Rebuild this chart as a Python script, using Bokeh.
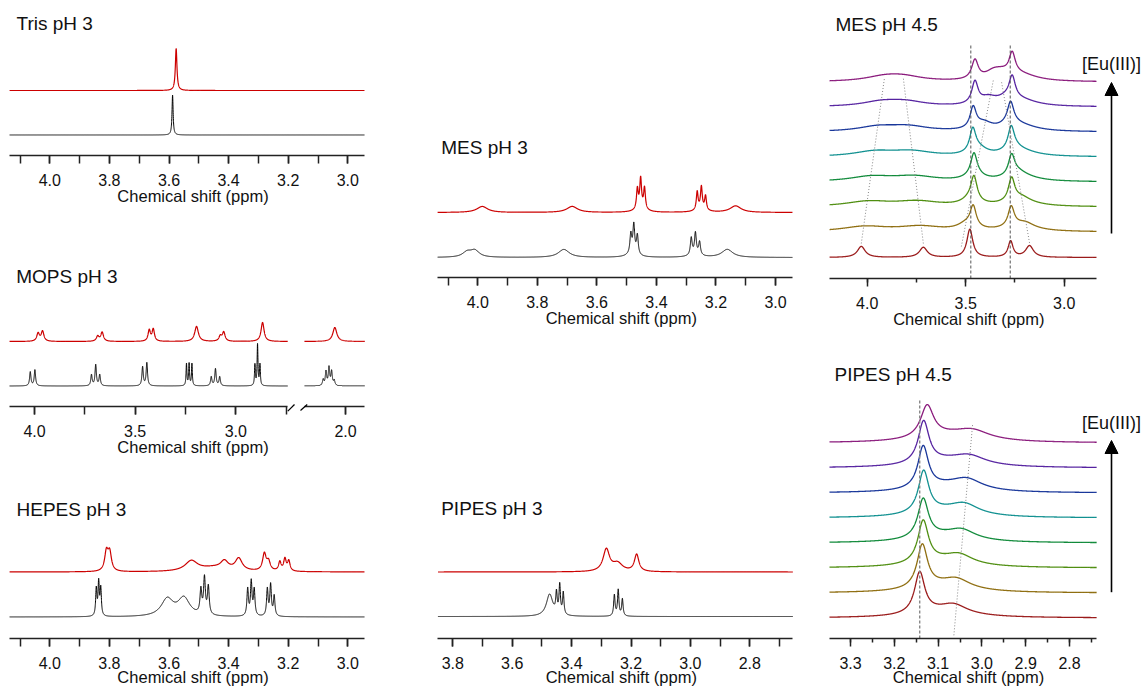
import numpy as np
from bokeh.plotting import figure
from bokeh.layouts import row, column
from bokeh.models import (Range1d, SingleIntervalTicker, NumeralTickFormatter,
                          Label, Arrow, NormalHead, LinearAxis)
from bokeh.embed import file_html
from bokeh.resources import INLINE

FONT = "Liberation Sans"
RED = "#cc0000"
BLACK = "#000000"
TRACE_COLORS = ["#9a1a1a", "#8f6e10", "#4f8e10", "#108a3a",
                "#109090", "#18369a", "#5522a0", "#8a1a7c"]
AXIS_LABEL = "Chemical shift (ppm)"

# ---------------- data: peak tables (ppm, height, half-width) ----------------
tris_black = [(3.588, 40.0, 0.0022)]
tris_red = [(3.576, 42.0, 0.0032)]
tris_offsets = (20.5, 65.0)
tris_axis = (2.944, 4.135)

mops_black = [(4.021, 14, 0.004), (3.998, 16, 0.004),
              (3.717, 11, 0.004), (3.696, 21, 0.004), (3.676, 11, 0.004),
              (3.463, 19, 0.004), (3.442, 23, 0.004),
              (3.245, 22, 0.0025), (3.232, 22, 0.0025), (3.218, 22, 0.0025),
              (3.122, 9, 0.004), (3.101, 17, 0.004), (3.080, 9, 0.004),
              (2.905, 21, 0.0025), (2.892, 41, 0.0025), (2.880, 21, 0.0025)]
mops_black_low = [(2.111, 6, 0.004), (2.097, 14, 0.004), (2.082, 18, 0.004),
                  (2.069, 14, 0.004), (2.056, 5, 0.004)]
mops_red = [(3.982, 8, 0.008), (3.960, 10, 0.008),
            (3.686, 5, 0.008), (3.664, 9, 0.008),
            (3.430, 11, 0.007), (3.410, 12, 0.007),
            (3.195, 15, 0.011),
            (3.077, 5, 0.008), (3.060, 9, 0.008),
            (2.867, 19, 0.009)]
mops_red_low = [(2.053, 14, 0.012)]
mops_offsets = (20.5, 65.0)
mops_axis = (2.742, 4.124)
mops_axis_low = (1.904, 2.204)

hepes_black = [(3.844, 27, 0.0025), (3.836, 33, 0.0025), (3.829, 27, 0.0025),
               (3.606, 17, 0.024), (3.550, 18, 0.024),
               (3.493, 24, 0.0035), (3.481, 36, 0.0035), (3.468, 28, 0.0035),
               (3.336, 27, 0.003), (3.324, 34, 0.003), (3.314, 26, 0.003),
               (3.270, 27, 0.003), (3.259, 31, 0.003), (3.247, 20, 0.003)]
hepes_red = [(3.810, 19, 0.007), (3.799, 18, 0.007),
             (3.525, 10, 0.025), (3.414, 8, 0.015), (3.366, 12, 0.014),
             (3.280, 17, 0.007), (3.266, 9, 0.007),
             (3.228, 9, 0.005), (3.211, 12, 0.005), (3.198, 10, 0.005),
             (3.450, 4, 0.06)]
hepes_offsets = (21.5, 66.5)
hepes_axis = (2.944, 4.135)

mes3_black = [(4.036, 5, 0.018), (4.010, 6.5, 0.018), (3.711, 8, 0.022),
              (3.486, 19, 0.0035), (3.476, 28, 0.0035), (3.464, 19, 0.0035),
              (3.480, 4, 0.02),
              (3.283, 17, 0.0035), (3.269, 21, 0.0035), (3.255, 13, 0.0035),
              (3.270, 3, 0.02), (3.162, 8, 0.022)]
mes3_red = [(3.985, 6, 0.022), (3.683, 6, 0.022),
            (3.464, 20, 0.0035), (3.453, 29, 0.0035), (3.440, 21, 0.0035),
            (3.452, 4, 0.02),
            (3.263, 18, 0.0035), (3.249, 22, 0.0035), (3.235, 14, 0.0035),
            (3.250, 3, 0.02), (3.134, 6.5, 0.022)]
mes3_offsets = (20.0, 65.0)
mes3_axis = (2.943, 4.135)

pipes3_black = [(3.474, 22, 0.013),
                (3.451, 20, 0.0028), (3.440, 29, 0.0028), (3.428, 22, 0.0028),
                (3.256, 21, 0.0028), (3.243, 26, 0.0028), (3.229, 17, 0.0028)]
pipes3_red = [(3.283, 22, 0.013), (3.245, 8, 0.02), (3.181, 17, 0.009)]
pipes3_offsets = (22.0, 66.5)
pipes3_axis = (2.655, 3.850)

# MES pH 4.5 titration (index 0 = bottom trace, no Eu(III))
mes45_offsets = [21.0, 46.5, 71.5, 96.5, 121.5, 146.5, 171.5, 196.5]
mes45_main1_ppm = [3.479, 3.462, 3.458, 3.458, 3.464, 3.462, 3.453, 3.453]
mes45_main1_h = [28, 21, 24, 21, 23, 21, 22, 19]
mes45_main1_w = [0.018, 0.019, 0.019, 0.019, 0.019, 0.019, 0.019, 0.020]
mes45_main2_ppm = [3.272, 3.269, 3.267, 3.267, 3.269, 3.272, 3.264, 3.264]
mes45_main2_h = [16, 20, 23, 20, 22, 20, 22, 21]
mes45_main2_w = [0.015, 0.019, 0.019, 0.019, 0.019, 0.019, 0.019, 0.019]
mes45_a_ppm = [4.030, 4.012, 3.995, 3.978, 3.962, 3.945, 3.928, 3.912]
mes45_a_h = [11.0, 5.0, 5.0, 5.0, 5.0, 4.8, 4.6, 4.5]
mes45_a_w = [0.024, 0.140, 0.140, 0.135, 0.130, 0.125, 0.120, 0.120]
mes45_b_ppm = [3.715, 3.730, 3.745, 3.760, 3.775, 3.790, 3.805, 3.817]
mes45_b_h = [10.0, 5.0, 5.0, 5.0, 5.0, 4.8, 4.6, 4.5]
mes45_b_w = [0.024, 0.140, 0.140, 0.135, 0.130, 0.125, 0.120, 0.120]
mes45_c_ppm = [3.522, 3.500, 3.478, 3.455, 3.432, 3.408, 3.385, 3.360]
mes45_c_h = [0.0, 6.0, 6.0, 6.0, 6.5, 7.0, 7.0, 7.0]
mes45_c_w = [0.040, 0.050, 0.050, 0.050, 0.050, 0.050, 0.050, 0.050]
mes45_d_ppm = [3.176, 3.196, 3.216, 3.236, 3.256, 3.276, 3.297, 3.318]
mes45_d_h = [11.5, 4.0, 4.0, 4.5, 4.5, 5.0, 5.0, 5.0]
mes45_d_w = [0.024, 0.050, 0.050, 0.050, 0.050, 0.050, 0.050, 0.050]
mes45_e_ppm = [3.20, 3.22, 3.22, 3.22, 3.22, 3.22, 3.22, 3.22]
mes45_e_h = [0.0, 5.0, 5.0, 5.0, 5.0, 5.5, 6.0, 6.5]
mes45_e_w = [0.10, 0.10, 0.10, 0.10, 0.10, 0.10, 0.10, 0.10]
mes45_axis = (2.836, 4.191)

# PIPES pH 4.5 titration
pipes45_offsets = [20.5, 45.5, 70.5, 95.5, 120.5, 145.5, 170.5, 195.5]
pipes45_main_ppm = [3.142, 3.136, 3.134, 3.134, 3.133, 3.134, 3.133, 3.125]
pipes45_main_h = [41, 43, 42, 39, 42, 42, 42, 32]
pipes45_main_w = [0.014, 0.0145, 0.0145, 0.0145, 0.0145, 0.0145, 0.015, 0.018]
pipes45_sh_ppm = [3.064, 3.058, 3.052, 3.046, 3.040, 3.034, 3.028, 3.021]
pipes45_sh_h = [8, 9, 9, 9, 10, 10, 8, 8]
pipes45_sh_w = [0.036, 0.038, 0.038, 0.038, 0.040, 0.042, 0.044, 0.046]
pipes45_base_ppm = [3.09, 3.09, 3.09, 3.09, 3.085, 3.08, 3.075, 3.07]
pipes45_base_h = [6.0, 6.0, 6.0, 6.0, 6.0, 6.0, 6.5, 7.0]
pipes45_base_w = [0.08, 0.08, 0.08, 0.08, 0.08, 0.08, 0.085, 0.09]
pipes45_axis = (2.738, 3.348)


# ---------------- helpers ----------------
def spectrum(x, peaks, offset):
    y = np.full_like(x, offset, dtype=float)
    for c, h, w in peaks:
        y += h / (1.0 + ((x - c) / w) ** 2)
    return y


def style_axis(ax, interval, bounds, minor_out):
    ax.ticker = SingleIntervalTicker(interval=interval, num_minor_ticks=2)
    ax.formatter = NumeralTickFormatter(format="0.0")
    ax.fixed_location = 0
    ax.bounds = bounds
    ax.axis_line_color = "#222222"
    ax.axis_line_width = 1.5
    ax.major_tick_line_color = "#222222"
    ax.major_tick_line_width = 1.5
    ax.minor_tick_line_color = "#222222"
    ax.minor_tick_line_width = 1.5
    ax.major_tick_in = 0
    ax.major_tick_out = 8
    ax.minor_tick_in = 0
    ax.minor_tick_out = minor_out
    ax.major_label_text_font = FONT
    ax.major_label_text_font_size = "16px"
    ax.major_label_text_color = "#111111"
    ax.major_label_standoff = 10
    ax.axis_label = None


def make_fig(box, axis_y, ref_ppm, ref_px, scale, interval, bounds, minor_out=8):
    L, T, W, H = box
    D = T + H - axis_y
    x0 = ref_ppm + (ref_px - L) / scale
    x1 = ref_ppm - (L + W - ref_px) / scale
    p = figure(width=W, height=H, x_range=Range1d(x0, x1),
               y_range=Range1d(-D, H - D), output_backend="svg",
               toolbar_location=None, y_axis_location=None,
               min_border_left=0, min_border_right=0,
               min_border_top=0, min_border_bottom=0,
               outline_line_color=None, background_fill_color="white",
               border_fill_color="white")
    p.xgrid.visible = False
    p.ygrid.visible = False
    style_axis(p.xaxis[0], interval, bounds, minor_out)
    p._box = box
    return p


def page_label(p, text, px, py, size, align="left", color="#111111"):
    L, T, W, H = p._box
    p.add_layout(Label(x=px - L, y=(T + H) - py, x_units="screen", y_units="screen",
                       text=text, text_font=FONT, text_font_size=size,
                       text_color=color, text_align=align, text_baseline="middle"))


def page_line(p, x0, y0, x1, y1, width, head=None):
    L, T, W, H = p._box
    p.add_layout(Arrow(end=head, x_start=x0 - L, y_start=(T + H) - y0,
                       x_end=x1 - L, y_end=(T + H) - y1,
                       start_units="screen", end_units="screen",
                       line_color="black", line_width=width))


def pair(p, bounds, black, red, offsets, range_name="default"):
    x = np.linspace(bounds[0], bounds[1], 5000)
    p.line(x, spectrum(x, black, offsets[0]), line_color=BLACK, line_width=1.0,
           x_range_name=range_name)
    p.line(x, spectrum(x, red, offsets[1]), line_color=RED, line_width=1.2,
           x_range_name=range_name)


# ---------------- left column ----------------
tris = make_fig((0, 0, 420, 212), 155, 4.0, 49.3, 298.0, 0.2, tris_axis)
pair(tris, tris_axis, tris_black, tris_red, tris_offsets)
page_label(tris, "Tris pH 3", 16, 23.3, "19px")
page_label(tris, AXIS_LABEL, 192.5, 195.5, "16.5px", "center")

mops = make_fig((0, 212, 420, 248), 406, 4.0, 34.0, 201.3, 0.5, mops_axis)
low_start = 2.0 + (345.0 - 0) / 201.3
low_end = 2.0 - (420 - 345.0) / 201.3
mops.extra_x_ranges = {"low": Range1d(low_start, low_end)}
low_axis = LinearAxis(x_range_name="low")
style_axis(low_axis, 0.5, mops_axis_low, 8)
mops.add_layout(low_axis, "below")
pair(mops, mops_axis, mops_black, mops_red, mops_offsets)
pair(mops, mops_axis_low, mops_black_low, mops_red_low, mops_offsets, "low")
page_label(mops, "MOPS pH 3", 15.7, 276.3, "19px")
page_label(mops, AXIS_LABEL, 192.5, 446.5, "16.5px", "center")
page_line(mops, 287.3, 410.7, 294.0, 404.0, 1.2)
page_line(mops, 300.0, 410.0, 306.7, 404.0, 1.2)

hepes = make_fig((0, 460, 420, 226), 638, 4.0, 49.3, 298.0, 0.2, hepes_axis)
pair(hepes, hepes_axis, hepes_black, hepes_red, hepes_offsets)
page_label(hepes, "HEPES pH 3", 16, 508.8, "19px")
page_label(hepes, AXIS_LABEL, 192.5, 676.0, "16.5px", "center")

# ---------------- middle column ----------------
mes3 = make_fig((420, 0, 392, 330), 277, 4.0, 477.3, 297.7, 0.2, mes3_axis)
pair(mes3, mes3_axis, mes3_black, mes3_red, mes3_offsets)
page_label(mes3, "MES pH 3", 440.7, 146.7, "19px")
page_label(mes3, AXIS_LABEL, 620.8, 317.5, "16.5px", "center")

pipes3 = make_fig((420, 330, 392, 356), 638, 3.8, 452.3, 297.0, 0.2, pipes3_axis)
pair(pipes3, pipes3_axis, pipes3_black, pipes3_red, pipes3_offsets)
page_label(pipes3, "PIPES pH 3", 440.7, 507.5, "19px")
page_label(pipes3, AXIS_LABEL, 620.8, 676.0, "16.5px", "center")

# ---------------- right column ----------------
head = NormalHead(size=13, fill_color="black", line_color="black")

mes45 = make_fig((812, 0, 331, 332), 278, 4.0, 866.7, 197.0, 0.5, mes45_axis, 4)
x = np.linspace(mes45_axis[0], mes45_axis[1], 5000)
for i in range(8):
    peaks = [(mes45_main1_ppm[i], mes45_main1_h[i], mes45_main1_w[i]),
             (mes45_main2_ppm[i], mes45_main2_h[i], mes45_main2_w[i]),
             (mes45_a_ppm[i], mes45_a_h[i], mes45_a_w[i]),
             (mes45_b_ppm[i], mes45_b_h[i], mes45_b_w[i]),
             (mes45_c_ppm[i], mes45_c_h[i], mes45_c_w[i]),
             (mes45_d_ppm[i], mes45_d_h[i], mes45_d_w[i]),
             (mes45_e_ppm[i], mes45_e_h[i], mes45_e_w[i])]
    mes45.line(x, spectrum(x, peaks, mes45_offsets[i]),
               line_color=TRACE_COLORS[i], line_width=1.3)
top = mes45_offsets[-1]
mes45.segment(x0=[3.474, 3.274], y0=[0, 0], x1=[3.474, 3.274], y1=[top + 37, top + 37],
              line_color="#555555", line_width=1, line_dash="3 2")
mes45.segment(x0=[mes45_a_ppm[0], mes45_b_ppm[0], mes45_c_ppm[0], mes45_d_ppm[0]],
              y0=[mes45_offsets[0] + 14, mes45_offsets[0] + 14,
                  mes45_offsets[0] + 11, mes45_offsets[0] + 14.6],
              x1=[mes45_a_ppm[-1], mes45_b_ppm[-1], mes45_c_ppm[-1], mes45_d_ppm[-1]],
              y1=[top + 4.5, top + 4.5, top + 1.5, top],
              line_color="#888888", line_width=1, line_dash="1 2")
page_label(mes45, "MES pH 4.5", 835, 24.2, "19px")
page_label(mes45, AXIS_LABEL, 968.3, 318.5, "16.5px", "center")
page_label(mes45, "[Eu(III)]", 1111, 63.3, "18px", "center")
page_line(mes45, 1111, 233, 1111, 82, 1.6, head)

pipes45 = make_fig((812, 332, 331, 354), 638, 3.3, 850.0, 438.0, 0.1, pipes45_axis, 4)
x = np.linspace(pipes45_axis[0], pipes45_axis[1], 5000)
for i in range(8):
    peaks = [(pipes45_main_ppm[i], pipes45_main_h[i], pipes45_main_w[i]),
             (pipes45_sh_ppm[i], pipes45_sh_h[i], pipes45_sh_w[i]),
             (pipes45_base_ppm[i], pipes45_base_h[i], pipes45_base_w[i])]
    pipes45.line(x, spectrum(x, peaks, pipes45_offsets[i]),
                 line_color=TRACE_COLORS[i], line_width=1.3)
ptop = pipes45_offsets[-1]
pipes45.segment(x0=[pipes45_main_ppm[0]], y0=[0], x1=[pipes45_main_ppm[0]], y1=[ptop + 42.5],
                line_color="#888888", line_width=1.4, line_dash="3 2")
pipes45.segment(x0=[pipes45_sh_ppm[0]], y0=[pipes45_offsets[0] - 17.3],
                x1=[pipes45_sh_ppm[-1]], y1=[ptop + 19.5],
                line_color="#888888", line_width=1, line_dash="1 2")
page_label(pipes45, "PIPES pH 4.5", 834, 374.2, "19px")
page_label(pipes45, AXIS_LABEL, 968, 676.0, "16.5px", "center")
page_label(pipes45, "[Eu(III)]", 1111, 422, "18px", "center")
page_line(pipes45, 1111, 591.7, 1111, 440, 1.6, head)

layout = row(column(tris, mops, hepes),
             column(mes3, pipes3),
             column(mes45, pipes45))

open("out.html", "w").write(file_html(layout, INLINE))
